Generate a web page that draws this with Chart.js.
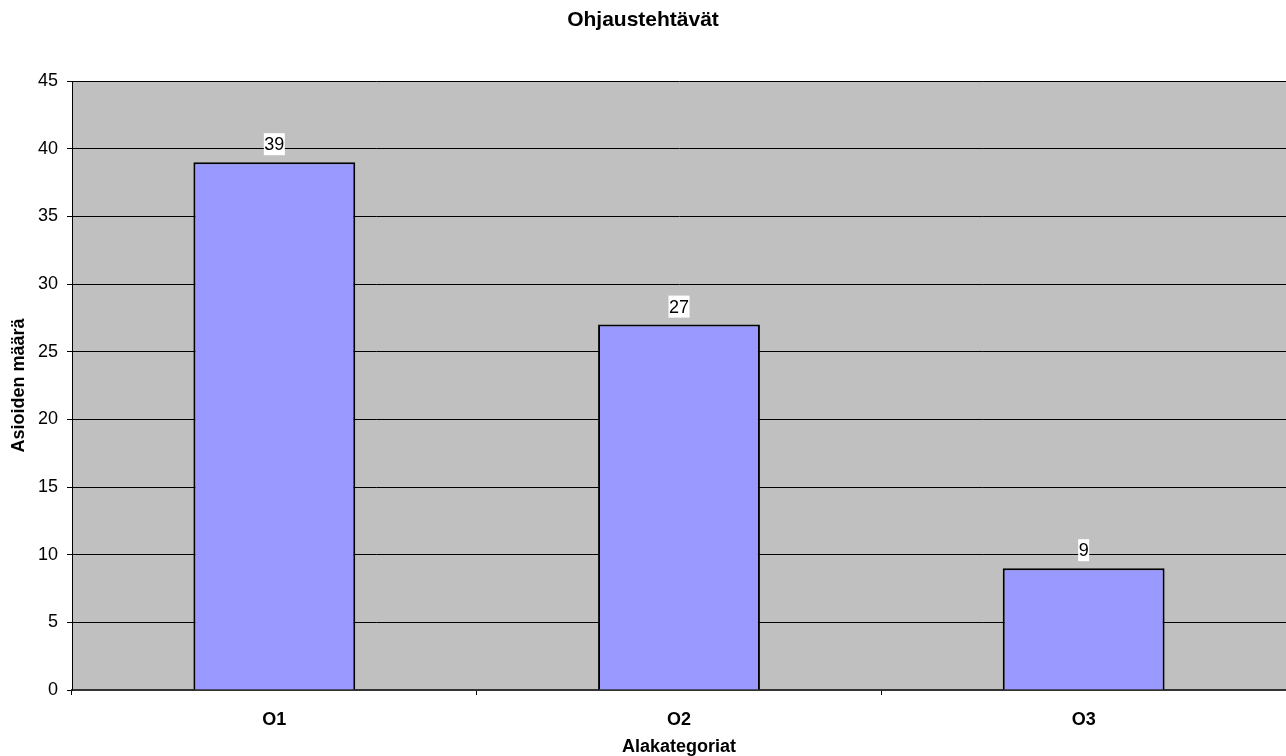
<!DOCTYPE html>
<html>
<head>
<meta charset="utf-8">
<script src="https://cdn.jsdelivr.net/npm/chart.js@4"></script>
<style>
  html, body { margin: 0; padding: 0; background: #fff; }
  #wrap { width: 1286px; height: 756px; }
</style>
</head>
<body>
<div id="wrap"><canvas id="chart"></canvas></div>
<script>
const categories = ['O1', 'O2', 'O3'];
const counts = [39, 27, 9];
const yMax = 45;
const yStep = 5;

const FONT = '"Liberation Sans", Arial, sans-serif';

// harmaa tausta piirtoalueelle
const plotBg = {
    id: 'plotBg',
    beforeDraw(chart) {
        const a = chart.chartArea;
        const ctx = chart.ctx;
        ctx.save();
        ctx.fillStyle = '#C0C0C0';
        ctx.fillRect(a.left, a.top, a.right - a.left, a.bottom - a.top);
        ctx.restore();
    }
};

// arvot pylväiden päälle valkoisella pohjalla
const valueLabels = {
    id: 'valueLabels',
    afterDatasetsDraw(chart) {
        const ctx = chart.ctx;
        const meta = chart.getDatasetMeta(0);
        ctx.save();
        ctx.font = '18px ' + FONT;
        ctx.textAlign = 'center';
        ctx.textBaseline = 'middle';
        meta.data.forEach((bar, i) => {
            const txt = String(counts[i]);
            const w = ctx.measureText(txt).width + 1;
            const cy = bar.y - 18;
            ctx.fillStyle = '#fff';
            ctx.fillRect(bar.x - w / 2, cy - 11, w, 22);
            ctx.fillStyle = '#000';
            ctx.fillText(txt, bar.x, cy + 1);
        });
        ctx.restore();
    }
};

new Chart(document.getElementById('chart'), {
    type: 'bar',
    data: {
        labels: categories,
        datasets: [{
            data: counts,
            backgroundColor: '#9999FF',
            borderColor: '#000',
            borderWidth: 2,
            categoryPercentage: 1,
            barPercentage: 0.4
        }]
    },
    options: {
        responsive: true,
        maintainAspectRatio: false,
        animation: false,
        layout: { padding: 0 },
        plugins: {
            legend: { display: false },
            tooltip: { enabled: false },
            title: {
                display: true,
                text: 'Ohjaustehtävät',
                color: '#000',
                font: { family: FONT, size: 21, weight: 'bold', lineHeight: 1.2 },
                padding: { top: 8, bottom: 47.8 }
            }
        },
        scales: {
            x: {
                afterFit(scale) { scale.height = 66; },
                grid: {
                    display: true,
                    drawOnChartArea: false,
                    drawTicks: true,
                    tickLength: 5,
                    color: '#000',
                    offset: true
                },
                border: { display: true, color: '#333', width: 2 },
                ticks: {
                    color: '#000',
                    padding: 14,
                    font: { family: FONT, size: 18, weight: 'bold' }
                },
                title: {
                    display: true,
                    text: 'Alakategoriat',
                    color: '#000',
                    font: { family: FONT, size: 18, weight: 'bold', lineHeight: 1 },
                    padding: { top: 0, bottom: 0 }
                }
            },
            y: {
                min: 0,
                max: yMax,
                afterFit(scale) { scale.width = 72; },
                grid: {
                    color: '#000',
                    lineWidth: 1,
                    tickLength: 5
                },
                border: { display: true, color: '#000', width: 1 },
                ticks: {
                    stepSize: yStep,
                    color: '#000',
                    padding: 9,
                    font: { family: FONT, size: 18 }
                },
                title: {
                    display: true,
                    text: 'Asioiden määrä',
                    color: '#000',
                    font: { family: FONT, size: 18, weight: 'bold', lineHeight: 1 },
                    padding: { top: 10, bottom: 0 }
                }
            }
        }
    },
    plugins: [plotBg, valueLabels]
});
</script>
</body>
</html>
